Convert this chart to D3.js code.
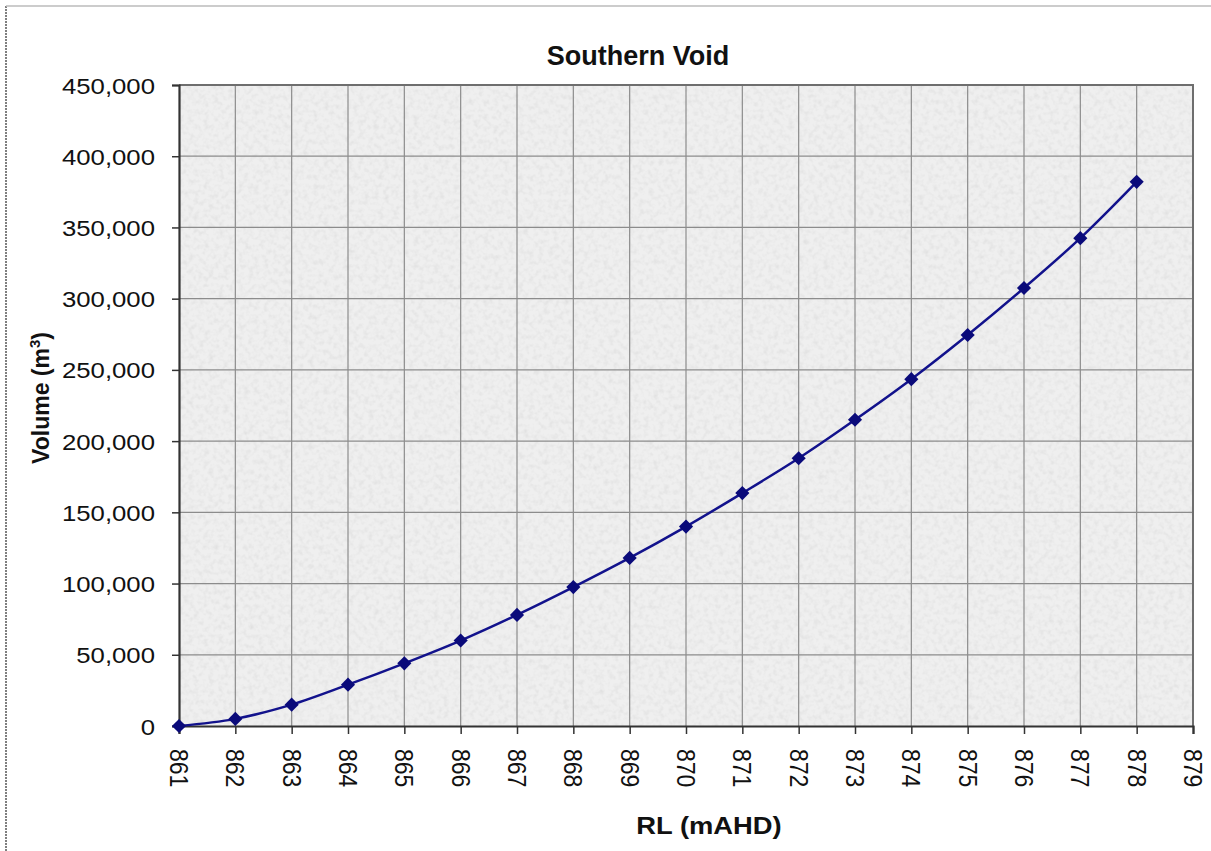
<!DOCTYPE html>
<html>
<head>
<meta charset="utf-8">
<script src="https://cdn.jsdelivr.net/npm/d3@7"></script>
<style>
  html, body { margin: 0; padding: 0; background: #fff; }
  svg { display: block; font-family: "Liberation Sans", Arial, sans-serif; }
</style>
</head>
<body>
<svg id="chart"></svg>
<script>
// data
const rl = [861, 862, 863, 864, 865, 866, 867, 868, 869, 870, 871, 872, 873, 874, 875, 876, 877, 878];
const volume = [0, 5000, 15000, 29000, 44000, 60000, 78000, 97500, 118000, 140000, 163500, 188000, 215000, 243500, 274500, 307500, 342500, 382000];
const xTicks = d3.range(861, 880);
const yTicks = d3.range(0, 450001, 50000);
const chartTitle = "Southern Void";

/***********************
 * dimensions
 ************************/
let dimensions = {
  width: 1211,
  height: 851,
  margin: { top: 85, right: 18, bottom: 125, left: 179 },
};
dimensions.boundedWidth = dimensions.width - dimensions.margin.left - dimensions.margin.right;
dimensions.boundedHeight = dimensions.height - dimensions.margin.top - dimensions.margin.bottom;

const svg = d3.select("#chart")
  .attr("width", dimensions.width)
  .attr("height", dimensions.height);

// texture for the plot area
const defs = svg.append("defs");
const noise = defs.append("filter").attr("id", "grain")
  .attr("x", 0).attr("y", 0).attr("width", 1).attr("height", 1);
noise.append("feTurbulence")
  .attr("type", "fractalNoise")
  .attr("baseFrequency", 0.2)
  .attr("numOctaves", 2)
  .attr("seed", 7);
noise.append("feColorMatrix")
  .attr("type", "matrix")
  .attr("values", "0 0 0 0 0.6  0 0 0 0 0.6  0 0 0 0 0.6  1.6 0 0 0 -0.7");

// outer frame
svg.append("line").attr("x1", 6).attr("x2", 6).attr("y1", 6).attr("y2", 851)
  .attr("stroke", "#555").attr("stroke-width", 1.5).attr("stroke-dasharray", "2,1");
svg.append("line").attr("x1", 6).attr("x2", 1211).attr("y1", 6).attr("y2", 6)
  .attr("stroke", "#bbb").attr("stroke-width", 1.5);

const bounds = svg.append("g")
  .attr("transform", `translate(${dimensions.margin.left},${dimensions.margin.top})`);

/***********************
 * scales
 ************************/
const xScale = d3.scaleLinear().domain([861, 879]).range([0, dimensions.boundedWidth]);
const yScale = d3.scaleLinear().domain([0, 450000]).range([dimensions.boundedHeight, 0]);

// plot background
bounds.append("rect")
  .attr("width", dimensions.boundedWidth)
  .attr("height", dimensions.boundedHeight)
  .attr("fill", "#efefef");
bounds.append("rect")
  .attr("width", dimensions.boundedWidth)
  .attr("height", dimensions.boundedHeight)
  .attr("filter", "url(#grain)")
  .attr("opacity", 0.5);

// grid
bounds.append("g").selectAll("line").data(xTicks.slice(1, -1)).join("line")
  .attr("x1", d => xScale(d)).attr("x2", d => xScale(d))
  .attr("y1", 0).attr("y2", dimensions.boundedHeight)
  .attr("stroke", "#8c8c8c").attr("stroke-width", 1.2);
bounds.append("g").selectAll("line").data(yTicks.slice(1, -1)).join("line")
  .attr("y1", d => yScale(d)).attr("y2", d => yScale(d))
  .attr("x1", 0).attr("x2", dimensions.boundedWidth)
  .attr("stroke", "#8c8c8c").attr("stroke-width", 1.2);

// plot border (top & right)
bounds.append("path")
  .attr("d", `M0,0H${dimensions.boundedWidth}V${dimensions.boundedHeight}`)
  .attr("fill", "none").attr("stroke", "#6e6e6e").attr("stroke-width", 2);

/***********************
 * axes
 ************************/
const yAxis = bounds.append("g")
  .call(d3.axisLeft(yScale).tickValues(yTicks).tickFormat(d3.format(",")).tickSize(7).tickPadding(0));
yAxis.select(".domain").attr("stroke", "#333").attr("stroke-width", 2.2);
yAxis.selectAll(".tick line").attr("stroke", "#333").attr("stroke-width", 1.5);
yAxis.selectAll(".tick text")
  .attr("font-size", 22)
  .attr("fill", "#111")
  .attr("x", null).attr("dy", null)
  .attr("transform", "translate(-24,8) scale(1.17,1)");

const xAxis = bounds.append("g")
  .attr("transform", `translate(0,${dimensions.boundedHeight})`)
  .call(d3.axisBottom(xScale).tickValues(xTicks).tickFormat(d3.format("d")).tickSize(8));
xAxis.select(".domain").attr("stroke", "#333").attr("stroke-width", 2.2);
xAxis.selectAll(".tick line").attr("stroke", "#333").attr("stroke-width", 1.5);
xAxis.selectAll(".tick text")
  .attr("font-size", 23)
  .attr("fill", "#111")
  .attr("y", null).attr("dy", "0.35em")
  .attr("text-anchor", "start")
  .attr("transform", "translate(0,23) scale(1.16,1) rotate(90)");

/***********************
 * line + markers
 ************************/
const points = rl.map((d, i) => ({ x: d, y: volume[i] }));

bounds.append("path")
  .datum(points)
  .attr("fill", "none")
  .attr("stroke", "#12128c")
  .attr("stroke-width", 2.5)
  .attr("d", d3.line().x(d => xScale(d.x)).y(d => yScale(d.y)).curve(d3.curveCatmullRom));

bounds.append("g").selectAll("path").data(points).join("path")
  .attr("d", d3.symbol(d3.symbolSquare, 100))
  .attr("transform", d => `translate(${xScale(d.x)},${yScale(d.y)}) rotate(45)`)
  .attr("fill", "#0a0a7a");

/***********************
 * titles
 ************************/
svg.append("text")
  .attr("x", 638).attr("y", 65)
  .attr("text-anchor", "middle")
  .attr("font-size", 27).attr("font-weight", "bold").attr("fill", "#111")
  .text(chartTitle);

svg.append("text")
  .attr("transform", "translate(709,834) scale(1.14,1)")
  .attr("text-anchor", "middle")
  .attr("font-size", 24).attr("font-weight", "bold").attr("fill", "#111")
  .text("RL (mAHD)");

const yTitle = svg.append("text")
  .attr("transform", "translate(49,398) rotate(-90)")
  .attr("text-anchor", "middle")
  .attr("font-size", 23).attr("font-weight", "bold").attr("fill", "#111");
yTitle.append("tspan").text("Volume (m");
yTitle.append("tspan").attr("font-size", 15).attr("dy", -9).text("3");
yTitle.append("tspan").attr("dy", 9).text(")");
</script>
</body>
</html>
